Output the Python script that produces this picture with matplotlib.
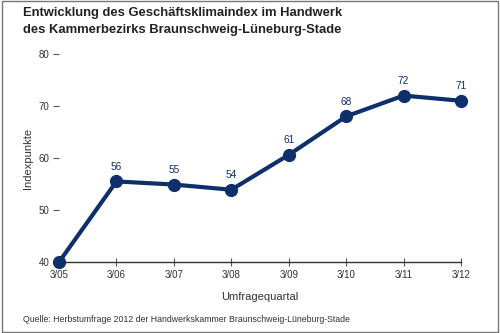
import matplotlib
matplotlib.use("Agg")
import matplotlib.pyplot as plt
from matplotlib.patches import Rectangle

quarters = ["3/05", "3/06", "3/07", "3/08", "3/09", "3/10", "3/11", "3/12"]
index_values = [40, 55.5, 54.9, 53.9, 60.6, 68.0, 72.0, 71.0]
value_labels = ["", "56", "55", "54", "61", "68", "72", "71"]

NAVY = "#0f2f6b"
GRAY = "#555555"

plt.rcParams["font.family"] = ["Liberation Sans", "DejaVu Sans"]

fig = plt.figure(figsize=(5, 3.33), dpi=100)
ax = fig.add_axes([0.118, 0.213, 0.804, 0.625])

x = range(len(quarters))
ax.plot(x, index_values, color=NAVY, linewidth=3, marker="o", markersize=8.5,
        clip_on=False, zorder=3)
for xi, yi, lab in zip(x, index_values, value_labels):
    if lab:
        ax.annotate(lab, (xi, yi), xytext=(0, 7), textcoords="offset points",
                    ha="center", va="bottom", fontsize=7.3, color=NAVY)

ax.set_xlim(0, len(quarters) - 1)
ax.set_ylim(40, 80)
ax.set_yticks([40, 50, 60, 70, 80])
ax.set_xticks(list(x))
ax.set_xticklabels(quarters)

for side in ["top", "right", "left"]:
    ax.spines[side].set_visible(False)
ax.spines["bottom"].set_color("#333333")
ax.spines["bottom"].set_linewidth(1)

ax.tick_params(axis="y", direction="out", length=4, width=0.8, colors=GRAY,
               labelsize=7, pad=3, labelcolor="#333333")
ax.tick_params(axis="x", direction="inout", length=6, width=0.8, colors=GRAY,
               labelsize=7, pad=3, labelcolor="#333333")

ax.set_ylabel("Indexpunkte", fontsize=8, color="#333333", labelpad=4)
ax.set_xlabel("Umfragequartal", fontsize=8, color="#333333", labelpad=8)

fig.text(0.046, 0.96, "Entwicklung des Geschäftsklimaindex im Handwerk",
         fontsize=9.4, fontweight="bold", color="#222222", va="center")
fig.text(0.046, 0.91, "des Kammerbezirks Braunschweig-Lüneburg-Stade",
         fontsize=9.4, fontweight="bold", color="#222222", va="center")
fig.text(0.046, 0.04, "Quelle: Herbstumfrage 2012 der Handwerkskammer Braunschweig-Lüneburg-Stade",
         fontsize=6.3, color="#333333", va="center")

fig.patches.append(Rectangle((0.003, 0.003), 0.992, 0.994, transform=fig.transFigure,
                             fill=False, edgecolor="#777777", linewidth=1))

fig.savefig("out.png", dpi=100)
plt.close(fig)
